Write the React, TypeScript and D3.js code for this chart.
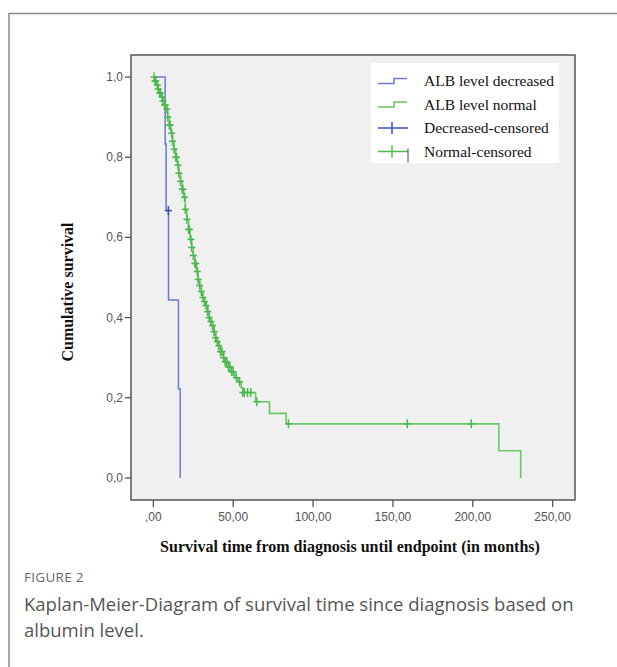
import * as d3 from 'd3';

// Kaplan-Meier step points (time in months, cumulative survival after the step)
const decreasedTimes = [0, 7.4, 8.0, 9.5, 15.7, 16.8];
const decreasedSurv = [1, 0.833, 0.667, 0.444, 0.222, 0];
const decreasedCensored = [9.4];

const normalTimes = [
  0, 1, 2, 3, 4, 5, 6, 7, 8, 9, 10, 11, 12, 13, 14, 15, 16, 17, 18, 19, 20,
  21, 22, 23, 24, 25, 26, 27, 28, 29, 30, 31, 32, 33, 34, 35, 36, 37, 38, 39,
  40, 41, 42, 44, 45, 47, 49, 51, 53, 55, 56, 64, 72.7, 83.2, 216.3, 230,
];
const normalSurv = [
  1, 0.99, 0.98, 0.97, 0.96, 0.95, 0.94, 0.93, 0.92, 0.9, 0.88, 0.86, 0.84,
  0.82, 0.8, 0.78, 0.76, 0.74, 0.72, 0.7, 0.67, 0.645, 0.62, 0.595, 0.575,
  0.555, 0.535, 0.515, 0.495, 0.48, 0.465, 0.45, 0.44, 0.43, 0.415, 0.4, 0.39,
  0.38, 0.365, 0.35, 0.34, 0.33, 0.315, 0.3, 0.29, 0.277, 0.265, 0.25, 0.24,
  0.225, 0.213, 0.19, 0.161, 0.135, 0.068, 0,
];
const normalCensored = [
  0.5, 1, 1.5, 2.5, 3, 4, 4.5, 5.5, 6, 7, 7.5, 8.5, 9, 10, 10.5, 11.5, 12, 13,
  14, 14.5, 15.5, 16, 17, 18, 18.5, 19.5, 20, 21, 22, 22.5, 23.5, 24, 25, 26,
  26.5, 27.5, 28, 29, 30, 31, 32, 33, 34, 35, 36, 37, 38, 39, 40, 41, 42, 43,
  44, 45, 46, 47, 48, 49, 50, 52, 54, 56, 57, 59, 61, 64.8, 84.6, 159, 199,
];

const xTicks = [0, 50, 100, 150, 200, 250];
const yTicks = [0, 0.2, 0.4, 0.6, 0.8, 1.0];

const legendItems = [
  { label: 'ALB level decreased', kind: 'step', color: '#6b7bd0' },
  { label: 'ALB level normal', kind: 'step', color: '#62c862' },
  { label: 'Decreased-censored', kind: 'cross', color: '#4050b0' },
  { label: 'Normal-censored', kind: 'cross', color: '#4cb84c' },
];

const fmt = (v: number, digits: number) => {
  const s = v.toFixed(digits).replace('.', ',');
  return s.startsWith('0,') && digits === 2 ? s.slice(1) : s;
};

function survAt(times: number[], surv: number[], t: number) {
  let s = surv[0];
  for (let i = 0; i < times.length; i++) if (times[i] <= t) s = surv[i];
  return s;
}

export default function App() {
  const x = d3.scaleLinear().domain([-14, 264]).range([131, 575]);
  const y = d3.scaleLinear().domain([-0.055, 1.055]).range([500, 55]);

  const line = d3
    .line<[number, number]>()
    .x((d) => x(d[0]))
    .y((d) => y(d[1]))
    .curve(d3.curveStepAfter);

  const bluePath = line(decreasedTimes.map((t, i) => [t, decreasedSurv[i]]));
  const greenPath = line(normalTimes.map((t, i) => [t, normalSurv[i]]));

  const cross = (cx: number, cy: number, color: string, key: string) => (
    <g key={key} stroke={color} strokeWidth={1.5}>
      <line x1={cx - 3.5} x2={cx + 3.5} y1={cy} y2={cy} />
      <line x1={cx} x2={cx} y1={cy - 4.5} y2={cy + 4.5} />
    </g>
  );

  const tickFont = { fontFamily: 'Liberation Sans, Arial, sans-serif', fontSize: 12, fill: '#555' };
  const serif = { fontFamily: 'Liberation Serif, Times New Roman, serif' };

  return (
    <svg width={617} height={667} style={{ position: 'absolute', left: 0, top: 0 }}>
      <rect width={617} height={667} fill="#fff" />
      {/* card frame */}
      <path d="M9,667 V13.5 H617" fill="none" stroke="#8a8a8a" strokeWidth={1.5} />

      {/* plot area */}
      <rect x={131} y={55} width={444} height={445} fill="#f0f0f0" />

      <path d={bluePath ?? ''} fill="none" stroke="#6b7bd0" strokeWidth={1.5} />
      <path d={greenPath ?? ''} fill="none" stroke="#66cb66" strokeWidth={1.6} />

      {decreasedCensored.map((t, i) =>
        cross(x(t), y(survAt(decreasedTimes, decreasedSurv, t)), '#4050b0', 'b' + i)
      )}
      {normalCensored.map((t, i) =>
        cross(x(t), y(survAt(normalTimes, normalSurv, t)), '#4cb84c', 'g' + i)
      )}

      <rect x={131} y={55} width={444} height={445} fill="none" stroke="#555" strokeWidth={1.5} />

      {/* y axis */}
      {yTicks.map((v) => (
        <g key={'y' + v}>
          <line x1={125} x2={131} y1={y(v)} y2={y(v)} stroke="#555" strokeWidth={1.3} />
          <text x={123} y={y(v) + 4} textAnchor="end" {...tickFont}>
            {fmt(v, 1)}
          </text>
        </g>
      ))}
      {/* x axis */}
      {xTicks.map((v) => (
        <g key={'x' + v}>
          <line x1={x(v)} x2={x(v)} y1={500} y2={507} stroke="#555" strokeWidth={1.3} />
          <text x={x(v)} y={521} textAnchor="middle" {...tickFont}>
            {fmt(v, 2)}
          </text>
        </g>
      ))}

      <text
        transform="translate(73,292) rotate(-90)"
        textAnchor="middle"
        fontWeight="bold"
        fontSize={16}
        fill="#111"
        {...serif}
      >
        Cumulative survival
      </text>
      <text x={350} y={552} textAnchor="middle" fontWeight="bold" fontSize={16} fill="#111" {...serif}>
        Survival time from diagnosis until endpoint (in months)
      </text>

      {/* legend */}
      <rect x={371} y={63} width={188} height={100} fill="#fff" />
      {legendItems.map((d, i) => {
        const cy = 81 + i * 23.5;
        return (
          <g key={d.label}>
            {d.kind === 'step' ? (
              <path
                d={`M378,${cy + 2.5} H394 V${cy - 2.5} H407`}
                fill="none"
                stroke={d.color}
                strokeWidth={1.5}
              />
            ) : (
              <g stroke={d.color} strokeWidth={1.5}>
                <line x1={378} x2={408} y1={cy} y2={cy} />
                <line x1={392} x2={392} y1={cy - 6} y2={cy + 6} />
              </g>
            )}
            {i === 3 && <line x1={408} x2={408} y1={cy - 3} y2={cy + 11} stroke="#444" strokeWidth={1} />}
            <text x={424} y={cy + 5} fontSize={15.5} fill="#111" {...serif}>
              {d.label}
            </text>
          </g>
        );
      })}

      {/* caption */}
      <text x={24} y={582} fontFamily="Open Sans, sans-serif" fontSize={13.5} fill="#666" letterSpacing={0.3}>
        FIGURE 2
      </text>
      <text x={24} y={611} fontFamily="Open Sans, sans-serif" fontSize={18.5} fill="#555">
        Kaplan-Meier-Diagram of survival time since diagnosis based on
      </text>
      <text x={24} y={637} fontFamily="Open Sans, sans-serif" fontSize={18.5} fill="#555">
        albumin level.
      </text>
    </svg>
  );
}
